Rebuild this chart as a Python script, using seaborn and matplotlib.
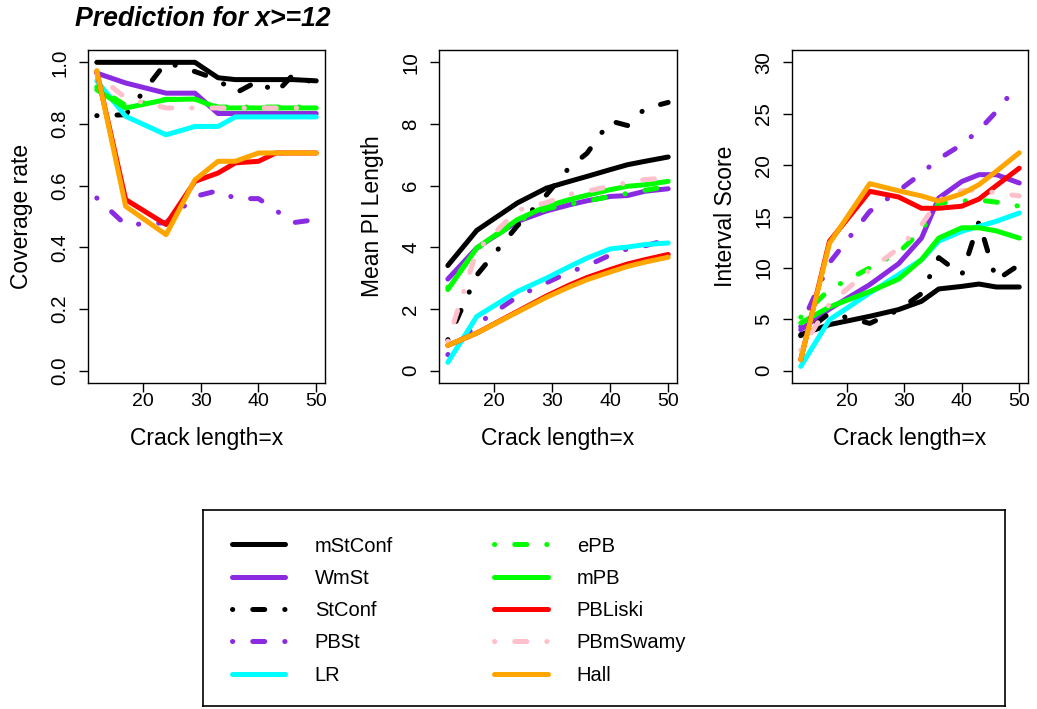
import matplotlib
matplotlib.use("Agg")
import matplotlib.pyplot as plt
from matplotlib.lines import Line2D
from matplotlib.ticker import FormatStrFormatter
import seaborn as sns
import pandas as pd

# ---------------- data ----------------
methods = ["mStConf", "WmSt", "StConf", "PBSt", "LR",
           "ePB", "mPB", "PBLiski", "PBmSwamy", "Hall"]
colors = ["#000000", "#8A2BE2", "#000000", "#8A2BE2", "#00FFFF",
          "#00FF00", "#00FF00", "#FF0000", "#FFC0CB", "#FFA500"]
dashed = [False, False, True, True, False, True, False, False, True, False]

x_pts = [12, 17, 24, 29, 33, 36, 40, 43, 46, 50]

cov_mStConf = [1.0, 1.0, 1.0, 1.0, 0.95, 0.944, 0.944, 0.944, 0.944, 0.94]
cov_WmSt = [0.965, 0.933, 0.90, 0.90, 0.834, 0.834, 0.834, 0.834, 0.834, 0.834]
cov_StConf = [0.827, 0.83, 1.0, 0.97, 0.944, 0.90, 0.94, 0.90, 0.96, 0.93]
cov_PBSt = [0.56, 0.473, 0.48, 0.565, 0.584, 0.558, 0.558, 0.52, 0.48, 0.49]
cov_LR = [0.94, 0.825, 0.765, 0.792, 0.792, 0.823, 0.823, 0.823, 0.823, 0.823]
cov_ePB = [0.92, 0.86, 0.88, 0.88, 0.855, 0.855, 0.855, 0.855, 0.855, 0.855]
cov_mPB = [0.911, 0.852, 0.879, 0.881, 0.852, 0.852, 0.852, 0.852, 0.852, 0.852]
cov_PBLiski = [0.97, 0.555, 0.474, 0.614, 0.641, 0.674, 0.679, 0.706, 0.706, 0.706]
cov_PBmSwamy = [0.96, 0.884, 0.852, 0.852, 0.852, 0.852, 0.852, 0.852, 0.852, 0.852]
cov_Hall = [0.973, 0.533, 0.441, 0.619, 0.679, 0.679, 0.706, 0.706, 0.706, 0.706]

len_mStConf = [3.41, 4.55, 5.44, 5.92, 6.14, 6.30, 6.52, 6.68, 6.79, 6.93]
len_WmSt = [2.97, 3.98, 4.84, 5.18, 5.38, 5.51, 5.65, 5.68, 5.82, 5.90]
len_StConf = [1.0, 3.1, 4.7, 5.7, 6.6, 7.05, 8.1, 7.95, 8.5, 8.7]
len_PBSt = [0.52, 1.5, 2.4, 2.85, 3.2, 3.4, 3.75, 3.95, 4.05, 4.25]
len_LR = [0.27, 1.76, 2.57, 3.0, 3.38, 3.65, 3.95, 4.01, 4.09, 4.14]
len_ePB = [2.7, 3.95, 4.85, 5.25, 5.4, 5.5, 5.65, 5.75, 5.85, 5.98]
len_mPB = [2.63, 3.98, 4.90, 5.33, 5.55, 5.69, 5.87, 5.98, 6.03, 6.14]
len_PBLiski = [0.82, 1.22, 1.92, 2.42, 2.78, 3.02, 3.28, 3.46, 3.6, 3.77]
len_PBmSwamy = [0.95, 3.9, 5.2, 5.45, 5.72, 5.82, 5.98, 6.1, 6.2, 6.25]
len_Hall = [0.82, 1.22, 1.9, 2.38, 2.72, 2.95, 3.2, 3.38, 3.52, 3.68]

is_mStConf = [3.5, 4.48, 5.29, 5.94, 6.75, 7.95, 8.2, 8.43, 8.14, 8.14]
is_WmSt = [3.99, 6.0, 8.37, 10.4, 12.9, 16.8, 18.4, 19.07, 19.07, 18.26]
is_StConf = [3.4, 5.6, 4.6, 5.9, 7.5, 11.0, 9.3, 14.5, 8.8, 10.3]
is_PBSt = [4.3, 10.5, 15.5, 17.5, 19.2, 20.6, 22.0, 23.4, 25.2, 28.0]
is_LR = [0.42, 4.96, 7.56, 9.34, 10.8, 12.6, 13.56, 14.05, 14.53, 15.34]
is_ePB = [5.2, 7.9, 10.0, 11.5, 13.6, 16.3, 16.5, 16.6, 16.4, 16.0]
is_mPB = [4.64, 6.2, 7.7, 8.9, 10.8, 12.9, 13.9, 13.9, 13.6, 12.9]
is_PBLiski = [1.07, 12.6, 17.45, 16.9, 15.8, 15.8, 16.0, 16.7, 18.0, 19.7]
is_PBmSwamy = [2.0, 6.5, 9.8, 11.9, 14.2, 16.6, 17.5, 17.6, 17.3, 17.0]
is_Hall = [1.07, 12.4, 18.2, 17.5, 17.0, 16.5, 17.2, 18.1, 19.4, 21.2]

coverage = [cov_mStConf, cov_WmSt, cov_StConf, cov_PBSt, cov_LR,
            cov_ePB, cov_mPB, cov_PBLiski, cov_PBmSwamy, cov_Hall]
pi_length = [len_mStConf, len_WmSt, len_StConf, len_PBSt, len_LR,
             len_ePB, len_mPB, len_PBLiski, len_PBmSwamy, len_Hall]
int_score = [is_mStConf, is_WmSt, is_StConf, is_PBSt, is_LR,
             is_ePB, is_mPB, is_PBLiski, is_PBmSwamy, is_Hall]

x_ticks = [20, 30, 40, 50]
cov_ticks = [0.0, 0.2, 0.4, 0.6, 0.8, 1.0]
len_ticks = [0, 2, 4, 6, 8, 10]
is_ticks = [0, 5, 10, 15, 20, 25, 30]

title_text = "Prediction for x>=12"
x_label = "Crack length=x"
y_labels = ["Coverage rate", "Mean PI Length", "Interval Score"]

# ---------------- style ----------------
sns.set_theme(style="white")
plt.rcParams["font.family"] = ["Liberation Sans", "DejaVu Sans"]
plt.rcParams.update({
    "text.color": "black",
    "axes.labelcolor": "black",
    "xtick.color": "black",
    "ytick.color": "black",
    "axes.edgecolor": "black",
    "axes.linewidth": 1.0,
    "lines.solid_capstyle": "round",
    "lines.dash_capstyle": "round",
    "lines.solid_joinstyle": "round",
    "lines.dash_joinstyle": "round",
})

LW = 3.6
DOTDASH = (0.05, 4.0, 2.4, 4.0)
palette = dict(zip(methods, colors))
dash_map = {m: (DOTDASH if d else "") for m, d in zip(methods, dashed)}

W, H = 1037, 709
fig = plt.figure(figsize=(W / 100, H / 100), dpi=100)

panel_px = [(88, 325), (439, 677), (792, 1028)]
top_px, bot_px = 50, 383
panels = [(coverage, cov_ticks, (-0.04, 1.04), "%.1f"),
          (pi_length, len_ticks, (-0.4, 10.4), "%d"),
          (int_score, is_ticks, (-1.2, 31.2), "%d")]

for i, ((l, r), (vals, yt, ylim, fmt)) in enumerate(zip(panel_px, panels)):
    ax = fig.add_axes([l / W, 1 - bot_px / H, (r - l) / W, (bot_px - top_px) / H])
    df = pd.DataFrame([
        {"x": xv, "value": v, "method": m}
        for m, series in zip(methods, vals)
        for xv, v in zip(x_pts, series)
    ])
    sns.lineplot(data=df, x="x", y="value", hue="method", style="method",
                 hue_order=methods, style_order=methods, palette=palette,
                 dashes=dash_map, linewidth=LW, estimator=None, sort=False,
                 legend=False, ax=ax,
                 solid_capstyle="round", dash_capstyle="round")
    ax.set_xlim(10.48, 51.52)
    ax.set_ylim(*ylim)
    ax.set_xticks(x_ticks)
    ax.set_yticks(yt)
    ax.yaxis.set_major_formatter(FormatStrFormatter(fmt))
    ax.tick_params(axis="both", direction="out", length=6.5, width=1.0,
                   color="black", labelcolor="black",
                   bottom=True, left=True)
    ax.tick_params(axis="x", pad=1, labelsize=14)
    ax.tick_params(axis="y", pad=7, labelrotation=90, labelsize=14.8)
    for t in ax.get_yticklabels():
        t.set_va("center")
    ax.set_xlabel(x_label, fontsize=16.5, va="center")
    ax.xaxis.set_label_coords(0.5, -55 / (bot_px - top_px))
    ax.set_ylabel(y_labels[i], fontsize=16.5, va="center")
    ax.yaxis.set_label_coords(-66 / (r - l), 0.5)
    for s in ax.spines.values():
        s.set_visible(True)
        s.set_color("black")
        s.set_linewidth(1.0)

fig.text(75 / W, 1 - 19 / H, title_text, fontsize=19.2, fontweight="bold",
         fontstyle="italic", ha="left", va="center")

# ---------------- legend box ----------------
axl = fig.add_axes([203 / W, 1 - 706 / H, (1005 - 203) / W, (706 - 510) / H])
axl.set_xticks([])
axl.set_yticks([])
for s in axl.spines.values():
    s.set_visible(True)
    s.set_color("black")
    s.set_linewidth(1.2)
handles = [Line2D([0], [0], color=c, lw=LW,
                  linestyle=((0, DOTDASH) if d else "-"),
                  solid_capstyle="round", dash_capstyle="round")
           for c, d in zip(colors, dashed)]
axl.legend(handles, methods, ncol=2, loc="upper left",
           bbox_to_anchor=(231.5 / W, 1 - 536.5 / H),
           bbox_transform=fig.transFigure, frameon=False, fontsize=14.5,
           handlelength=2.68, handletextpad=1.45, columnspacing=5.0,
           labelspacing=0.66, borderpad=0, borderaxespad=0)

fig.savefig("out.png", dpi=100)
